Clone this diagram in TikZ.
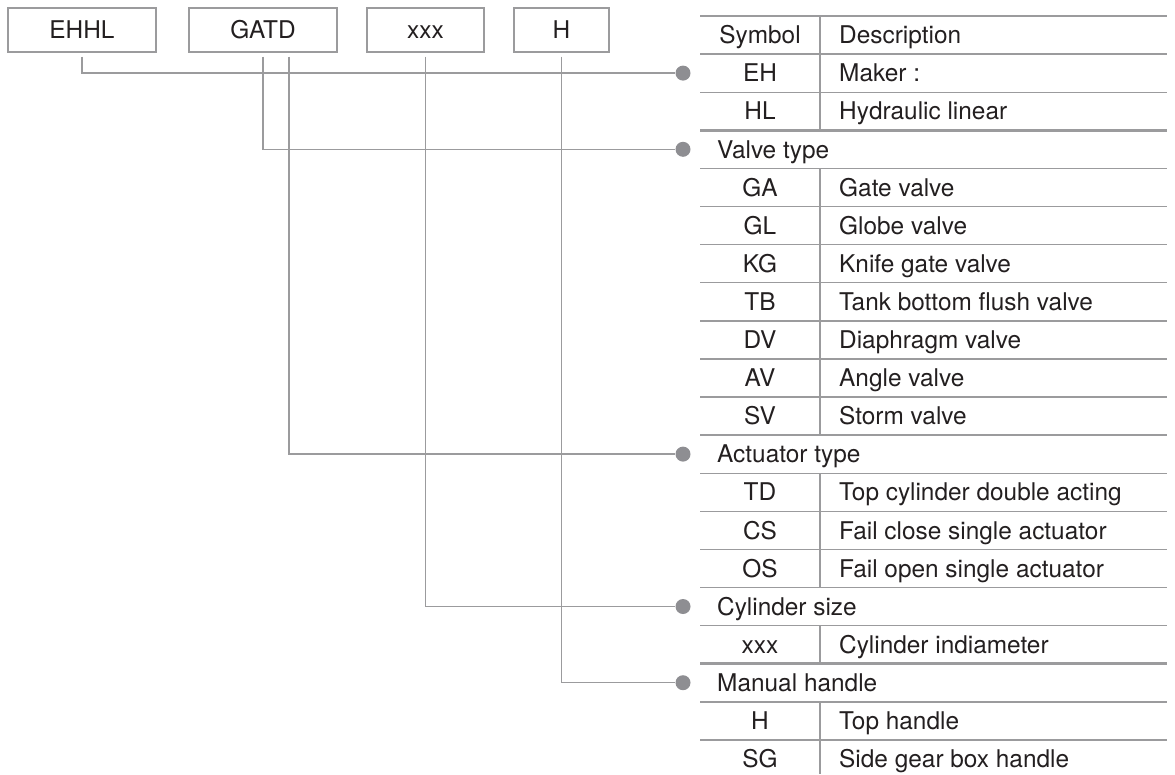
\documentclass[tikz,border=0pt]{standalone}
\usepackage{fontspec}
\setmainfont{TeX Gyre Heros}
\definecolor{lgray}{HTML}{9B9B9D}
\definecolor{dgray}{HTML}{8E8E92}
\definecolor{ink}{HTML}{231F20}
\tikzset{
  codebox/.style={draw=lgray, line width=1.4pt, minimum height=44pt, inner sep=0pt, text=ink, font=\fontsize{24.4}{27}\selectfont, text height=17.5pt, text depth=0pt},
  conn/.style={draw=lgray, line width=1.5pt},
  dot/.style={circle, fill=dgray, inner sep=0pt, minimum size=15pt},
  cell/.style={inner sep=0pt, text=ink, font=\fontsize{24.4}{27}\selectfont, text height=17.5pt, text depth=0pt},
  thinrule/.style={draw=lgray, line width=1.4pt},
  thickrule/.style={draw=lgray, line width=2.6pt},
}
\begin{document}
\begin{tikzpicture}[x=1pt,y=-1pt]
\useasboundingbox (0,0) rectangle (1175,774);
% code boxes
\node[codebox, minimum width=148pt] (b1) at (82,30) {EHHL};
\node[codebox, minimum width=148pt] (b2) at (263,30) {GATD};
\node[codebox, minimum width=117pt] (b3) at (425.5,30) {xxx};
\node[codebox, minimum width=95pt] (b4) at (561.5,30) {H};
% table rules
\foreach \k in {1,2,4,5,6,7,8,9,10,12,13,14,15,16,18,19}
  \draw[thinrule] (700,{16+38.1*\k}) -- (1167,{16+38.1*\k});
\foreach \k in {0,3,11,17}
  \draw[thickrule] (700,{16+38.1*\k}) -- (1167,{16+38.1*\k});
% column divider
\foreach \k in {0,1,2,4,5,6,7,8,9,10,12,13,14,16,18}
  \draw[thinrule] (820,{16+38.1*\k}) -- (820,{16+38.1*(\k+1)});
\draw[thinrule] (820,{16+38.1*19}) -- (820,774);
% table cells
\foreach \k/\s/\d in {0/Symbol/Description,1/EH/Maker :,2/HL/Hydraulic linear,
  4/GA/Gate valve,5/GL/Globe valve,6/KG/Knife gate valve,7/TB/Tank bottom flush valve,
  8/DV/Diaphragm valve,9/AV/Angle valve,10/SV/Storm valve,
  12/TD/Top cylinder double acting,13/CS/Fail close single actuator,14/OS/Fail open single actuator,
  16/xxx/Cylinder indiameter,18/H/Top handle,19/SG/Side gear box handle}{
  \node[cell] (s\k) at (760,{35+38.1*\k}) {\s};
  \node[cell, anchor=west] (d\k) at (839,{35+38.1*\k}) {\d};
}
\foreach \k/\t in {3/Valve type,11/Actuator type,15/Cylinder size,17/Manual handle}
  \node[cell, anchor=west] (t\k) at (717,{35+38.1*\k}) {\t};
% dots
\node[dot] (p1) at (683,73.1) {};
\node[dot] (p2) at (683,149.3) {};
\node[dot] (p3) at (683,454.1) {};
\node[dot] (p4) at (683,606.5) {};
\node[dot] (p5) at (683,682.7) {};
% connectors
\draw[conn] ([yshift=-4pt]b1.south) |- (p1);
\draw[conn] ([yshift=-4pt]b2.south) |- (p2);
\draw[conn] ([xshift=26pt,yshift=-4pt]b2.south) |- (p3);
\draw[conn] ([yshift=-4pt]b3.south) |- (p4);
\draw[conn] ([yshift=-4pt]b4.south) |- (p5);
\end{tikzpicture}
\end{document}
